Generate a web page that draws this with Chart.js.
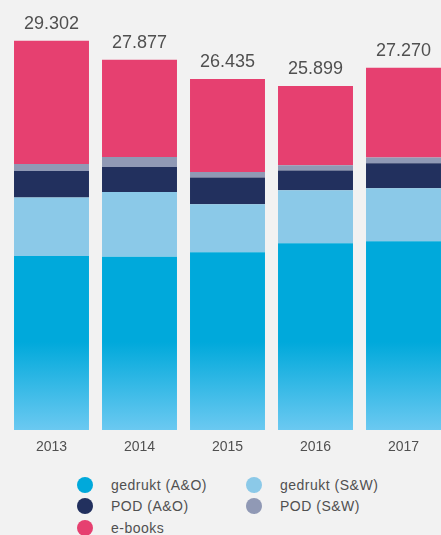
<!DOCTYPE html>
<html>
<head>
<meta charset="utf-8">
<script src="https://cdn.jsdelivr.net/npm/chart.js@4/dist/chart.umd.min.js"></script>
<style>
  html, body { margin:0; padding:0; background:#f2f2f2; overflow:hidden; width:441px; height:535px; }
  #wrap { position:absolute; left:0; top:0; width:455px; height:460px; }
  #legend { position:absolute; left:77px; top:474px; display:grid; grid-template-columns:169px 169px; grid-auto-rows:21.5px;
    font-family:"Liberation Sans", Arial, sans-serif; font-size:14px; letter-spacing:0.5px; color:#505050; }
  .item { display:flex; align-items:center; white-space:nowrap; }
  .dot { width:16px; height:16px; border-radius:50%; margin-right:18px; flex:none; }
</style>
</head>
<body>
<div id="wrap"><canvas id="chart"></canvas></div>
<div id="legend"></div>
<script>
// ── Boeken per jaar, gestapeld ──
const years = ['2013', '2014', '2015', '2016', '2017'];
const totals = [29302, 27877, 26435, 25899, 27270];
const gedruktAO = [13106, 13053, 13384, 14062, 14213];
const gedruktSW = [4391, 4873, 3615, 3992, 3992];
const podAO = [2011, 1883, 2004, 1476, 1883];
const podSW = [527, 753, 429, 407, 422];
const ebooks = [9267, 7315, 7003, 5962, 6760];

const seriesNames = ['gedrukt (A&O)', 'gedrukt (S&W)', 'POD (A&O)', 'POD (S&W)', 'e-books'];
const seriesColors = ['#00a9db', '#8bc9e8', '#22305e', '#9099b5', '#e64070'];
const legendOrder = [0, 1, 2, 3, 4];

function blueFade(ctx) {
  const area = ctx.chart.chartArea;
  if (!area) return seriesColors[0];
  const g = ctx.chart.ctx.createLinearGradient(0, area.bottom - 88, 0, area.bottom);
  g.addColorStop(0, '#00a9db');
  g.addColorStop(1, '#6bc9f1');
  return g;
}

const totalLabels = {
  id: 'totalLabels',
  afterDatasetsDraw(chart) {
    const c = chart.ctx;
    const top = chart.getDatasetMeta(chart.data.datasets.length - 1);
    c.save();
    c.font = '18px "Liberation Sans", Arial, sans-serif';
    c.fillStyle = '#505050';
    c.textAlign = 'center';
    c.textBaseline = 'alphabetic';
    top.data.forEach((bar, i) => {
      c.fillText(totals[i].toLocaleString('de-DE'), bar.x, bar.y - 12);
    });
    c.restore();
  }
};

const spacing = {
  id: 'spacing',
  beforeInit(chart) { chart.ctx.letterSpacing = '0.5px'; }
};

const data = [gedruktAO, gedruktSW, podAO, podSW, ebooks];

new Chart(document.getElementById('chart'), {
  type: 'bar',
  data: {
    labels: years,
    datasets: data.map((d, i) => ({
      label: seriesNames[i],
      data: d,
      backgroundColor: i === 0 ? blueFade : seriesColors[i],
      borderWidth: 0,
      barPercentage: 0.852,
      categoryPercentage: 1
    }))
  },
  options: {
    responsive: true,
    maintainAspectRatio: false,
    animation: false,
    layout: { padding: { left: 7.5, right: 7.5, top: 5, bottom: 0 } },
    plugins: { legend: { display: false }, tooltip: { enabled: false } },
    scales: {
      x: {
        stacked: true,
        grid: { display: false, drawTicks: false },
        border: { display: false },
        ticks: { color: '#505050', padding: 9, font: { family: '"Liberation Sans", Arial, sans-serif', size: 14 } },
        afterFit(axis) { axis.height = 30; }
      },
      y: { stacked: true, display: false, min: 0, max: 32000 }
    }
  },
  plugins: [totalLabels, spacing]
});

document.getElementById('legend').innerHTML = legendOrder.map(i =>
  `<div class="item"><span class="dot" style="background:${seriesColors[i]}"></span>${seriesNames[i]}</div>`
).join('');
</script>
</body>
</html>
